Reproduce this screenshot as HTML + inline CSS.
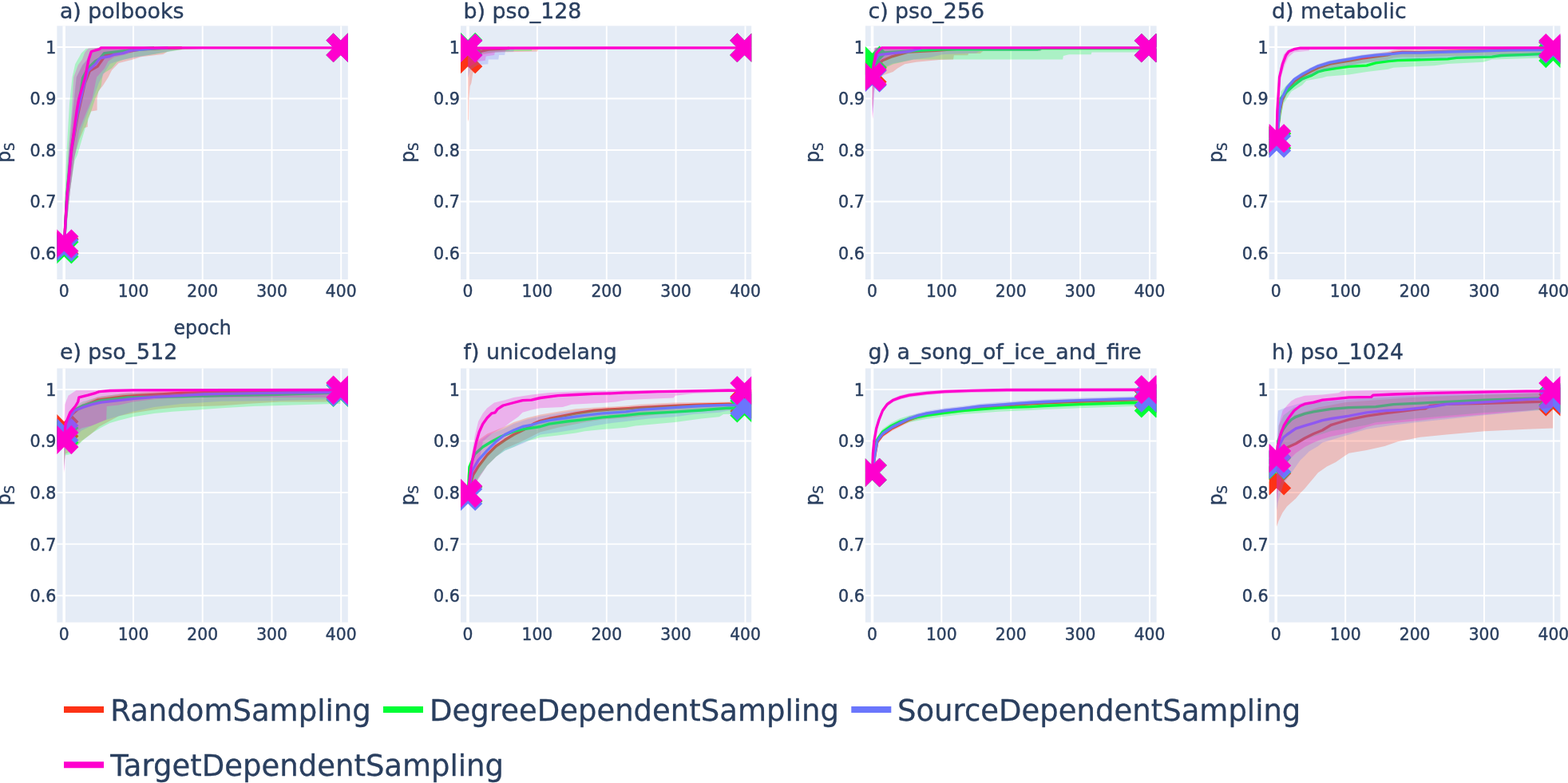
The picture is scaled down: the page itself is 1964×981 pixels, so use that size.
<!DOCTYPE html>
<html lang="en">
<head>
<meta charset="utf-8">
<title>Sampling strategies</title>
<style>
html,body{margin:0;padding:0;background:#fff;}
body{width:1964px;height:981px;overflow:hidden;}
svg{display:block;}
text{font-family:'DejaVu Sans', 'Liberation Sans', sans-serif;fill:#2a3f5f;stroke:#2a3f5f;stroke-linejoin:round;}
.tk{font-size:20.8px;stroke-width:0.45px;}
.tt{font-size:26.8px;stroke-width:0.4px;}
.ax{font-size:24.3px;stroke-width:0.4px;}
.lg{font-size:37.6px;stroke-width:0.3px;}
.gl{stroke:#fff;stroke-width:1.95;}
.zl{stroke:#fff;stroke-width:3.5;}
.ln{fill:none;stroke-width:3.35;stroke-linejoin:round;}
</style>
</head>
<body>
<svg width="1964" height="981" viewBox="0 0 1964 981" role="img" aria-label="Sampling strategy comparison on eight networks">
<rect width="1964" height="981" fill="#fff"/>
<defs>
<clipPath id="c0"><rect x="71.4" y="32.4" width="364.4" height="317.6"/></clipPath>
<clipPath id="c1"><rect x="577" y="32.4" width="364.2" height="317.6"/></clipPath>
<clipPath id="c2"><rect x="1083.9" y="32.4" width="364.7" height="317.6"/></clipPath>
<clipPath id="c3"><rect x="1589.6" y="32.4" width="364.8" height="317.6"/></clipPath>
<clipPath id="c4"><rect x="71.4" y="461.5" width="364.4" height="318.2"/></clipPath>
<clipPath id="c5"><rect x="577" y="461.5" width="364.2" height="318.2"/></clipPath>
<clipPath id="c6"><rect x="1083.9" y="461.5" width="364.7" height="318.2"/></clipPath>
<clipPath id="c7"><rect x="1589.6" y="461.5" width="364.8" height="318.2"/></clipPath>
</defs>
<g id="plot-a">
<rect x="71.4" y="32.4" width="364.4" height="317.6" fill="#E5ECF6"/>
<line class="gl" x1="167" x2="167" y1="32.4" y2="350"/>
<line class="gl" x1="253.7" x2="253.7" y1="32.4" y2="350"/>
<line class="gl" x1="340.5" x2="340.5" y1="32.4" y2="350"/>
<line class="gl" x1="427.2" x2="427.2" y1="32.4" y2="350"/>
<line class="gl" x1="71.4" x2="435.8" y1="58.9" y2="58.9"/>
<line class="gl" x1="71.4" x2="435.8" y1="123.4" y2="123.4"/>
<line class="gl" x1="71.4" x2="435.8" y1="188" y2="188"/>
<line class="gl" x1="71.4" x2="435.8" y1="252.5" y2="252.5"/>
<line class="gl" x1="71.4" x2="435.8" y1="317.1" y2="317.1"/>
<line class="zl" x1="80.2" x2="80.2" y1="32.4" y2="350"/>
<g clip-path="url(#c0)">
<polygon points="80.3,304.2 83.8,239 86.8,188 91.6,138.9 95.9,96.7 103.7,81.5 109.8,74.4 114.1,65.4 120.2,61.5 132.3,59.8 426.4,59.8 426.4,59.8 279.8,59.8 259.9,60.6 226.6,62.3 210,64.5 204.4,67.9 176.6,71.2 166.6,74.4 148.8,78.9 140,87.9 135.6,96.7 128.9,107.3 123.3,114.4 121.6,123.4 121.6,138.3 114.1,139.6 109.8,149.3 109.8,159 105.5,160.2 99.4,175.1 93.3,196.4 87.8,239 80.3,312.6" fill="#FD3216" fill-opacity="0.25"/>
<polyline class="ln" points="80.3,308.3 84,246.1 89.8,188 97.7,142.8 106.3,104.1 112.4,88.9 121.9,83.4 128,75 132.3,68.9 143.6,66.6 154,65.4 175.7,62.1 201.8,60.5 227.8,59.8" stroke="#FD3216"/>
<path d="M80.3,317.4 l9.1,9.1 l9.1,-9.1 l-9.1,-9.1 l9.1,-9.1 l-9.1,-9.1 l-9.1,9.1 l-9.1,-9.1 l-9.1,9.1 l9.1,9.1 l-9.1,9.1 l9.1,9.1 Z" fill="#FD3216"/>
<path d="M426.7,68.9 l9.1,9.1 l9.1,-9.1 l-9.1,-9.1 l9.1,-9.1 l-9.1,-9.1 l-9.1,9.1 l-9.1,-9.1 l-9.1,9.1 l9.1,9.1 l-9.1,9.1 l9.1,9.1 Z" fill="#FD3216"/>
<polygon points="80.3,304.2 81.4,239 83.6,188 87,129.9 90.5,96.7 94.2,80.2 102,66.6 107.7,61.1 124.5,59.8 426.4,59.8 426.4,59.8 327.5,59.8 326.7,61 253.8,61 227.8,62.1 213,64.5 193.1,67.9 167.1,71.8 155.5,74.4 146.7,77.8 140,85.6 128.9,92.5 126.6,108 119.3,123.4 114.4,138.9 106.3,162.2 96.8,194.5 93.7,200.9 87.8,239 80.3,317.1" fill="#00FE35" fill-opacity="0.25"/>
<polyline class="ln" points="80.3,312.5 83.6,246.1 89,188 97.7,136.4 103.7,97.6 109.8,86 119.3,76.7 125.4,73.1 130.6,66.6 158.4,63.4 175.7,60.8 193.1,59.8" stroke="#00FE35"/>
<path d="M80.3,321.5 l9.1,9.1 l9.1,-9.1 l-9.1,-9.1 l9.1,-9.1 l-9.1,-9.1 l-9.1,9.1 l-9.1,-9.1 l-9.1,9.1 l9.1,9.1 l-9.1,9.1 l9.1,9.1 Z" fill="#00FE35"/>
<path d="M426.7,68.9 l9.1,9.1 l9.1,-9.1 l-9.1,-9.1 l9.1,-9.1 l-9.1,-9.1 l-9.1,9.1 l-9.1,-9.1 l-9.1,9.1 l9.1,9.1 l-9.1,9.1 l9.1,9.1 Z" fill="#00FE35"/>
<polygon points="80.3,304.2 83.3,239 86.4,188 90.7,138.9 95.5,96.7 102.9,81.5 108.9,74.4 113.3,65.4 119.3,61.5 128,59.8 426.4,59.8 426.4,59.8 240.8,59.8 219.1,62.8 201.8,66 184.4,69.2 166.2,72.5 149.7,75.7 137.6,80 130.6,91.2 123.7,104.1 116.7,123.4 110.7,138.9 102,162.2 93.3,196.4 87.8,239 80.3,313.9" fill="#6A76FC" fill-opacity="0.25"/>
<polyline class="ln" points="80.3,309.7 83.9,246.1 89.4,188 96.8,142.8 103.3,114.4 110,88.9 119.9,80 123.8,74.4 126.6,72.5 137.7,70.5 143.3,68.3 154.4,66.6 163.3,63.4 182.2,61.7 193.1,60.6 210.4,59.8" stroke="#6A76FC"/>
<path d="M80.3,318.7 l9.1,9.1 l9.1,-9.1 l-9.1,-9.1 l9.1,-9.1 l-9.1,-9.1 l-9.1,9.1 l-9.1,-9.1 l-9.1,9.1 l9.1,9.1 l-9.1,9.1 l9.1,9.1 Z" fill="#6A76FC"/>
<path d="M426.7,68.9 l9.1,9.1 l9.1,-9.1 l-9.1,-9.1 l9.1,-9.1 l-9.1,-9.1 l-9.1,9.1 l-9.1,-9.1 l-9.1,9.1 l9.1,9.1 l-9.1,9.1 l9.1,9.1 Z" fill="#6A76FC"/>
<polygon points="80.3,301 82.9,239 85.5,188 89.8,138.9 92.2,96.7 97.7,81.5 102.9,74.4 106.3,65.4 110.7,60.5 123.7,59.8 426.4,59.8 426.4,59.8 184.4,59.8 171.4,64.1 158.4,67.9 142.8,71.8 135.6,76.7 131,85.6 121.1,96.7 115.5,123.4 108.9,138.9 99.4,162.2 93.3,196.4 87.8,239 80.3,310.6" fill="#FE00CE" fill-opacity="0.25"/>
<polyline class="ln" points="80.3,305.5 83.9,245 89.4,188 96.1,138.9 98.9,123.4 106.7,96.7 111.1,74.4 114.4,64.5 124.5,61.7 126.6,59.8 426.4,59.8" stroke="#FE00CE"/>
<path d="M80.3,314.5 l9.1,9.1 l9.1,-9.1 l-9.1,-9.1 l9.1,-9.1 l-9.1,-9.1 l-9.1,9.1 l-9.1,-9.1 l-9.1,9.1 l9.1,9.1 l-9.1,9.1 l9.1,9.1 Z" fill="#FE00CE"/>
<path d="M426.7,68.9 l9.1,9.1 l9.1,-9.1 l-9.1,-9.1 l9.1,-9.1 l-9.1,-9.1 l-9.1,9.1 l-9.1,-9.1 l-9.1,9.1 l9.1,9.1 l-9.1,9.1 l9.1,9.1 Z" fill="#FE00CE"/>
</g>
<text class="tk" transform="translate(80.2,371.9) scale(0.975,1)" text-anchor="middle">0</text>
<text class="tk" transform="translate(167,371.9) scale(0.975,1)" text-anchor="middle">100</text>
<text class="tk" transform="translate(253.7,371.9) scale(0.975,1)" text-anchor="middle">200</text>
<text class="tk" transform="translate(340.5,371.9) scale(0.975,1)" text-anchor="middle">300</text>
<text class="tk" transform="translate(427.2,371.9) scale(0.975,1)" text-anchor="middle">400</text>
<text class="tk" transform="translate(70.4,66.8) scale(0.995,1)" text-anchor="end">1</text>
<text class="tk" transform="translate(70.4,131.3) scale(0.995,1)" text-anchor="end">0.9</text>
<text class="tk" transform="translate(70.4,195.9) scale(0.995,1)" text-anchor="end">0.8</text>
<text class="tk" transform="translate(70.4,260.4) scale(0.995,1)" text-anchor="end">0.7</text>
<text class="tk" transform="translate(70.4,325) scale(0.995,1)" text-anchor="end">0.6</text>
<text class="tt" transform="translate(74.9,23.3) scale(1.0,1)">a) polbooks</text>
<text class="ax" transform="translate(13.1,191.2) rotate(-90) scale(0.957,1)" text-anchor="middle">p<tspan font-size="17.0px" dy="5.2">S</tspan></text>
<text class="ax" transform="translate(253.6,418.9) scale(0.975,1)" text-anchor="middle">epoch</text>
</g>
<g id="plot-b">
<rect x="577" y="32.4" width="364.2" height="317.6" fill="#E5ECF6"/>
<line class="gl" x1="672.9" x2="672.9" y1="32.4" y2="350"/>
<line class="gl" x1="759.8" x2="759.8" y1="32.4" y2="350"/>
<line class="gl" x1="846.6" x2="846.6" y1="32.4" y2="350"/>
<line class="gl" x1="933.5" x2="933.5" y1="32.4" y2="350"/>
<line class="gl" x1="577" x2="941.2" y1="58.9" y2="58.9"/>
<line class="gl" x1="577" x2="941.2" y1="123.4" y2="123.4"/>
<line class="gl" x1="577" x2="941.2" y1="188" y2="188"/>
<line class="gl" x1="577" x2="941.2" y1="252.5" y2="252.5"/>
<line class="gl" x1="577" x2="941.2" y1="317.1" y2="317.1"/>
<line class="zl" x1="586" x2="586" y1="32.4" y2="350"/>
<g clip-path="url(#c1)">
<polygon points="586.1,65.4 588.7,59.8 932.2,59.8 932.2,59.8 675.5,59.8 672.9,64.5 620.8,65.4 603.5,68.6 599.1,75 594.8,84.7 592.2,92.5 590.4,104.1 588.7,108 587.4,123.4 587,149.3 586.1,152.5" fill="#FD3216" fill-opacity="0.25"/>
<polyline class="ln" points="586.1,74.1 587.8,70.5 591.3,67.3 600.8,64.7 612.1,62.1 638.1,60.5" stroke="#FD3216"/>
<path d="M586.1,83.2 l9.1,9.1 l9.1,-9.1 l-9.1,-9.1 l9.1,-9.1 l-9.1,-9.1 l-9.1,9.1 l-9.1,-9.1 l-9.1,9.1 l9.1,9.1 l-9.1,9.1 l9.1,9.1 Z" fill="#FD3216"/>
<path d="M932.5,68.9 l9.1,9.1 l9.1,-9.1 l-9.1,-9.1 l9.1,-9.1 l-9.1,-9.1 l-9.1,9.1 l-9.1,-9.1 l-9.1,9.1 l9.1,9.1 l-9.1,9.1 l9.1,9.1 Z" fill="#FD3216"/>
<polygon points="586.1,58.9 590.4,59.8 932.2,59.8 932.2,59.8 666.8,59.8 665.9,64.1 643.4,64.1 603.5,66.6 586.1,68.6" fill="#00FE35" fill-opacity="0.25"/>
<polyline class="ln" points="586.1,59 590.4,59.8" stroke="#00FE35"/>
<path d="M586.1,68.1 l9.1,9.1 l9.1,-9.1 l-9.1,-9.1 l9.1,-9.1 l-9.1,-9.1 l-9.1,9.1 l-9.1,-9.1 l-9.1,9.1 l9.1,9.1 l-9.1,9.1 l9.1,9.1 Z" fill="#00FE35"/>
<path d="M932.5,68.9 l9.1,9.1 l9.1,-9.1 l-9.1,-9.1 l9.1,-9.1 l-9.1,-9.1 l-9.1,9.1 l-9.1,-9.1 l-9.1,9.1 l9.1,9.1 l-9.1,9.1 l9.1,9.1 Z" fill="#00FE35"/>
<polygon points="586.1,59.5 932.2,59.8 932.2,59.8 644.2,59.8 643.4,64.7 632.9,64.7 632.1,68.9 625.1,68.9 624.3,74.4 611.7,74.4 611.3,80.2 598.2,81.5 588.7,87.9 587,94.4 586.1,97.6" fill="#6A76FC" fill-opacity="0.25"/>
<polyline class="ln" points="586.1,60.2 594.8,59.8" stroke="#6A76FC"/>
<path d="M586.1,69.2 l9.1,9.1 l9.1,-9.1 l-9.1,-9.1 l9.1,-9.1 l-9.1,-9.1 l-9.1,9.1 l-9.1,-9.1 l-9.1,9.1 l9.1,9.1 l-9.1,9.1 l9.1,9.1 Z" fill="#6A76FC"/>
<path d="M932.5,68.9 l9.1,9.1 l9.1,-9.1 l-9.1,-9.1 l9.1,-9.1 l-9.1,-9.1 l-9.1,9.1 l-9.1,-9.1 l-9.1,9.1 l9.1,9.1 l-9.1,9.1 l9.1,9.1 Z" fill="#6A76FC"/>
<polygon points="586.1,59.5 932.2,59.8 932.2,59.8 638.1,59.8 632.1,64.7 619.9,65.4 619.1,68.9 608.7,70.5 607.8,75.7 599.1,77 586.1,84.7" fill="#FE00CE" fill-opacity="0.25"/>
<polyline class="ln" points="586.1,60.2 932.2,59.8" stroke="#FE00CE"/>
<path d="M586.1,69.2 l9.1,9.1 l9.1,-9.1 l-9.1,-9.1 l9.1,-9.1 l-9.1,-9.1 l-9.1,9.1 l-9.1,-9.1 l-9.1,9.1 l9.1,9.1 l-9.1,9.1 l9.1,9.1 Z" fill="#FE00CE"/>
<path d="M932.5,68.9 l9.1,9.1 l9.1,-9.1 l-9.1,-9.1 l9.1,-9.1 l-9.1,-9.1 l-9.1,9.1 l-9.1,-9.1 l-9.1,9.1 l9.1,9.1 l-9.1,9.1 l9.1,9.1 Z" fill="#FE00CE"/>
</g>
<text class="tk" transform="translate(586,371.9) scale(0.975,1)" text-anchor="middle">0</text>
<text class="tk" transform="translate(672.9,371.9) scale(0.975,1)" text-anchor="middle">100</text>
<text class="tk" transform="translate(759.8,371.9) scale(0.975,1)" text-anchor="middle">200</text>
<text class="tk" transform="translate(846.6,371.9) scale(0.975,1)" text-anchor="middle">300</text>
<text class="tk" transform="translate(933.5,371.9) scale(0.975,1)" text-anchor="middle">400</text>
<text class="tk" transform="translate(576,66.8) scale(0.995,1)" text-anchor="end">1</text>
<text class="tk" transform="translate(576,131.3) scale(0.995,1)" text-anchor="end">0.9</text>
<text class="tk" transform="translate(576,195.9) scale(0.995,1)" text-anchor="end">0.8</text>
<text class="tk" transform="translate(576,260.4) scale(0.995,1)" text-anchor="end">0.7</text>
<text class="tk" transform="translate(576,325) scale(0.995,1)" text-anchor="end">0.6</text>
<text class="tt" transform="translate(580.5,23.3) scale(1.0,1)">b) pso_128</text>
<text class="ax" transform="translate(518.7,191.2) rotate(-90) scale(0.957,1)" text-anchor="middle">p<tspan font-size="17.0px" dy="5.2">S</tspan></text>
</g>
<g id="plot-c">
<rect x="1083.9" y="32.4" width="364.7" height="317.6" fill="#E5ECF6"/>
<line class="gl" x1="1179.3" x2="1179.3" y1="32.4" y2="350"/>
<line class="gl" x1="1266.2" x2="1266.2" y1="32.4" y2="350"/>
<line class="gl" x1="1353.1" x2="1353.1" y1="32.4" y2="350"/>
<line class="gl" x1="1440" x2="1440" y1="32.4" y2="350"/>
<line class="gl" x1="1083.9" x2="1448.6" y1="58.9" y2="58.9"/>
<line class="gl" x1="1083.9" x2="1448.6" y1="123.4" y2="123.4"/>
<line class="gl" x1="1083.9" x2="1448.6" y1="188" y2="188"/>
<line class="gl" x1="1083.9" x2="1448.6" y1="252.5" y2="252.5"/>
<line class="gl" x1="1083.9" x2="1448.6" y1="317.1" y2="317.1"/>
<line class="zl" x1="1092.5" x2="1092.5" y1="32.4" y2="350"/>
<g clip-path="url(#c2)">
<polygon points="1092.5,78.3 1096.8,59.8 1438.6,59.8 1438.6,60.2 1304.2,60.2 1303.3,64.1 1231.3,64.1 1227.8,67 1213.1,67 1212.2,69.2 1194.9,69.2 1194,74.4 1176.6,75 1147.6,77.8 1133.3,80.2 1124.3,85.6 1118.5,89.9 1105.5,94.4 1096.8,104.1 1094.2,117 1093.4,136.4 1092.5,129.9" fill="#FD3216" fill-opacity="0.25"/>
<polyline class="ln" points="1092.5,93.4 1096.8,84.7 1105.5,75.7 1116.5,71.2 1127.7,67.9 1138.5,65 1172.3,63.4 1205.3,60.8" stroke="#FD3216"/>
<path d="M1092.5,102.4 l9.1,9.1 l9.1,-9.1 l-9.1,-9.1 l9.1,-9.1 l-9.1,-9.1 l-9.1,9.1 l-9.1,-9.1 l-9.1,9.1 l9.1,9.1 l-9.1,9.1 l9.1,9.1 Z" fill="#FD3216"/>
<path d="M1438.9,69.2 l9.1,9.1 l9.1,-9.1 l-9.1,-9.1 l9.1,-9.1 l-9.1,-9.1 l-9.1,9.1 l-9.1,-9.1 l-9.1,9.1 l9.1,9.1 l-9.1,9.1 l9.1,9.1 Z" fill="#FD3216"/>
<polygon points="1092.5,68.6 1096.8,59.8 1438.6,59.8 1438.6,65.4 1367.5,65.4 1366.6,68.3 1338.9,68.3 1331.9,69.9 1331.1,74.4 1144.3,74.4 1119.1,80.2 1109,84.7 1096.8,89.9 1092.5,91.2" fill="#00FE35" fill-opacity="0.25"/>
<polyline class="ln" points="1092.5,75.9 1096.8,71.8 1101.2,67.9 1108.1,66 1135.9,64.1 1179.2,61.8 1299.8,61.7 1305,60.5 1438.6,60.5" stroke="#00FE35"/>
<path d="M1092.5,84.9 l9.1,9.1 l9.1,-9.1 l-9.1,-9.1 l9.1,-9.1 l-9.1,-9.1 l-9.1,9.1 l-9.1,-9.1 l-9.1,9.1 l9.1,9.1 l-9.1,9.1 l9.1,9.1 Z" fill="#00FE35"/>
<path d="M1438.9,69.2 l9.1,9.1 l9.1,-9.1 l-9.1,-9.1 l9.1,-9.1 l-9.1,-9.1 l-9.1,9.1 l-9.1,-9.1 l-9.1,9.1 l9.1,9.1 l-9.1,9.1 l9.1,9.1 Z" fill="#00FE35"/>
<polygon points="1092.5,84.7 1096,59.8 1438.6,59.8 1438.6,60.2 1304.2,60.2 1303.3,64.1 1227.8,64.1 1222.6,66.6 1183.6,67.9 1179.2,68.6 1166.2,71.8 1144.5,74.4 1131.5,77 1118.5,79.6 1109,83.4 1096.8,104.1 1095.1,117 1093.4,142.8 1092.5,136.4" fill="#6A76FC" fill-opacity="0.25"/>
<polyline class="ln" points="1092.5,97.6 1095.1,78.3 1099.9,68.9 1118.5,66.6 1138.5,64.5 1153.2,60.8" stroke="#6A76FC"/>
<path d="M1092.5,106.7 l9.1,9.1 l9.1,-9.1 l-9.1,-9.1 l9.1,-9.1 l-9.1,-9.1 l-9.1,9.1 l-9.1,-9.1 l-9.1,9.1 l9.1,9.1 l-9.1,9.1 l9.1,9.1 Z" fill="#6A76FC"/>
<path d="M1438.9,69.2 l9.1,9.1 l9.1,-9.1 l-9.1,-9.1 l9.1,-9.1 l-9.1,-9.1 l-9.1,9.1 l-9.1,-9.1 l-9.1,9.1 l9.1,9.1 l-9.1,9.1 l9.1,9.1 Z" fill="#6A76FC"/>
<polygon points="1092.5,84.7 1095.1,59.8 1438.6,59.8 1438.6,59.8 1161.9,59.8 1144.5,64.1 1122.9,68.6 1109.8,73.1 1101.2,81.5 1095.1,104.1 1093.4,149.3 1092.5,142.8" fill="#FE00CE" fill-opacity="0.25"/>
<polyline class="ln" points="1092.5,96.3 1094.2,81.5 1097.7,66.6 1104.3,59.8 1438.6,59.8" stroke="#FE00CE"/>
<path d="M1092.5,105.4 l9.1,9.1 l9.1,-9.1 l-9.1,-9.1 l9.1,-9.1 l-9.1,-9.1 l-9.1,9.1 l-9.1,-9.1 l-9.1,9.1 l9.1,9.1 l-9.1,9.1 l9.1,9.1 Z" fill="#FE00CE"/>
<path d="M1438.9,69.2 l9.1,9.1 l9.1,-9.1 l-9.1,-9.1 l9.1,-9.1 l-9.1,-9.1 l-9.1,9.1 l-9.1,-9.1 l-9.1,9.1 l9.1,9.1 l-9.1,9.1 l9.1,9.1 Z" fill="#FE00CE"/>
</g>
<text class="tk" transform="translate(1092.5,371.9) scale(0.975,1)" text-anchor="middle">0</text>
<text class="tk" transform="translate(1179.3,371.9) scale(0.975,1)" text-anchor="middle">100</text>
<text class="tk" transform="translate(1266.2,371.9) scale(0.975,1)" text-anchor="middle">200</text>
<text class="tk" transform="translate(1353.1,371.9) scale(0.975,1)" text-anchor="middle">300</text>
<text class="tk" transform="translate(1440,371.9) scale(0.975,1)" text-anchor="middle">400</text>
<text class="tk" transform="translate(1082.9,66.8) scale(0.995,1)" text-anchor="end">1</text>
<text class="tk" transform="translate(1082.9,131.3) scale(0.995,1)" text-anchor="end">0.9</text>
<text class="tk" transform="translate(1082.9,195.9) scale(0.995,1)" text-anchor="end">0.8</text>
<text class="tk" transform="translate(1082.9,260.4) scale(0.995,1)" text-anchor="end">0.7</text>
<text class="tk" transform="translate(1082.9,325) scale(0.995,1)" text-anchor="end">0.6</text>
<text class="tt" transform="translate(1087.4,23.3) scale(1.0,1)">c) pso_256</text>
<text class="ax" transform="translate(1025.6,191.2) rotate(-90) scale(0.957,1)" text-anchor="middle">p<tspan font-size="17.0px" dy="5.2">S</tspan></text>
</g>
<g id="plot-d">
<rect x="1589.6" y="32.4" width="364.8" height="317.6" fill="#E5ECF6"/>
<line class="gl" x1="1685.2" x2="1685.2" y1="32.4" y2="350"/>
<line class="gl" x1="1772.1" x2="1772.1" y1="32.4" y2="350"/>
<line class="gl" x1="1859" x2="1859" y1="32.4" y2="350"/>
<line class="gl" x1="1945.9" x2="1945.9" y1="32.4" y2="350"/>
<line class="gl" x1="1589.6" x2="1954.4" y1="58.9" y2="58.9"/>
<line class="gl" x1="1589.6" x2="1954.4" y1="123.4" y2="123.4"/>
<line class="gl" x1="1589.6" x2="1954.4" y1="188" y2="188"/>
<line class="gl" x1="1589.6" x2="1954.4" y1="252.5" y2="252.5"/>
<line class="gl" x1="1589.6" x2="1954.4" y1="317.1" y2="317.1"/>
<line class="zl" x1="1598.2" x2="1598.2" y1="32.4" y2="350"/>
<g clip-path="url(#c3)">
<polygon points="1599,172.5 1602.9,137 1605.9,121.5 1612.4,108 1621.6,97.6 1631.5,91.2 1641.5,85.7 1651.5,80.8 1665.8,76.3 1678.8,74.1 1690.1,72.1 1706.6,69.2 1723.1,67 1737.8,65 1745.3,62.8 1756.5,61.6 1778.6,61.8 1796.8,61.2 1813.3,60.5 1859.2,59.5 1891.3,58.6 1935.6,58.3 1945.1,58.6 1945.1,68.3 1935.6,67.9 1891.3,68.3 1859.2,69.2 1813.3,70.2 1796.8,70.8 1778.6,71.5 1756.5,71.3 1745.3,72.5 1737.8,74.7 1723.1,76.7 1706.6,78.9 1690.1,81.8 1678.8,83.8 1665.8,86 1651.5,90.5 1641.5,95.4 1631.5,100.9 1621.6,107.3 1612.4,117.6 1605.9,131.2 1602.9,146.7 1599,182.2" fill="#FD3216" fill-opacity="0.25"/>
<polyline class="ln" points="1599,176.4 1602.9,140.9 1605.9,125.4 1612.4,111.8 1621.6,101.5 1631.5,95 1641.5,89.6 1651.5,84.7 1665.8,80.2 1678.8,77.9 1690.1,76 1706.6,73.1 1723.1,70.8 1737.8,68.9 1745.3,66.6 1756.5,65.5 1778.6,65.7 1796.8,65 1813.3,64.4 1859.2,63.4 1891.3,62.5 1935.6,62.1 1945.1,62.5" stroke="#FD3216"/>
<path d="M1599,185.4 l9.1,9.1 l9.1,-9.1 l-9.1,-9.1 l9.1,-9.1 l-9.1,-9.1 l-9.1,9.1 l-9.1,-9.1 l-9.1,9.1 l9.1,9.1 l-9.1,9.1 l9.1,9.1 Z" fill="#FD3216"/>
<path d="M1945.4,71.5 l9.1,9.1 l9.1,-9.1 l-9.1,-9.1 l9.1,-9.1 l-9.1,-9.1 l-9.1,9.1 l-9.1,-9.1 l-9.1,9.1 l9.1,9.1 l-9.1,9.1 l9.1,9.1 Z" fill="#FD3216"/>
<polygon points="1599,168 1604.2,115.1 1612,106 1620.9,98.3 1630.9,90.5 1643.1,86 1650.9,81.6 1658.7,79.6 1673.1,77.2 1689.7,75 1711.8,73.8 1723.1,70.5 1739.5,68.3 1750.8,67.3 1772.5,66.6 1813.3,65.5 1824.5,63.9 1868.8,62.8 1880.1,61.1 1913,59.9 1935.6,58.9 1945.1,58.7 1945.1,71.8 1930,72.8 1902.6,73.4 1868.8,74.4 1858.4,77.8 1813.3,80 1796.8,82.2 1767.3,83.4 1745.3,84.7 1738.7,86.7 1711.8,90 1689.7,93.4 1662,95.7 1656.3,97.6 1636.3,101.1 1630.9,106.7 1617.6,114.4 1607.7,129.9 1599,181.5" fill="#00FE35" fill-opacity="0.25"/>
<polyline class="ln" points="1599,176.4 1604.2,123.4 1612,114.4 1620.9,106.7 1630.9,98.9 1643.1,94.4 1650.9,90 1658.7,87.9 1673.1,85.6 1689.7,83.4 1711.8,82.2 1723.1,78.9 1739.5,76.7 1750.8,75.7 1772.5,75 1813.3,73.9 1824.5,72.3 1868.8,71.2 1880.1,69.5 1913,68.3 1935.6,67.3 1945.1,67.1" stroke="#00FE35"/>
<path d="M1599,185.4 l9.1,9.1 l9.1,-9.1 l-9.1,-9.1 l9.1,-9.1 l-9.1,-9.1 l-9.1,9.1 l-9.1,-9.1 l-9.1,9.1 l9.1,9.1 l-9.1,9.1 l9.1,9.1 Z" fill="#00FE35"/>
<path d="M1945.4,76.1 l9.1,9.1 l9.1,-9.1 l-9.1,-9.1 l9.1,-9.1 l-9.1,-9.1 l-9.1,9.1 l-9.1,-9.1 l-9.1,9.1 l9.1,9.1 l-9.1,9.1 l9.1,9.1 Z" fill="#00FE35"/>
<polygon points="1599,177.1 1602.6,136.4 1605.3,120.9 1612,107.3 1620.9,97 1630.9,90.5 1640.9,85 1650.9,80.2 1665.4,75.7 1678.6,73.4 1689.7,71.5 1706.4,68.6 1723.1,66.6 1745.3,64.7 1756.5,63.5 1778.6,63.5 1796.8,63 1813.3,62.5 1859.2,61.4 1891.3,60.2 1935.6,59.9 1945.1,59.1 1945.1,70.1 1935.6,70.8 1891.3,71.2 1859.2,72.3 1813.3,73.4 1796.8,73.9 1778.6,74.5 1756.5,74.5 1745.3,75.7 1723.1,77.6 1706.4,79.6 1689.7,82.5 1678.6,84.4 1665.4,86.7 1650.9,91.2 1640.9,96 1630.9,101.5 1620.9,108 1612,118.3 1605.3,131.8 1602.6,147.3 1599,188.1" fill="#6A76FC" fill-opacity="0.25"/>
<polyline class="ln" points="1599,179.7 1602.6,138.9 1605.3,123.4 1612,109.9 1620.9,99.6 1630.9,93.1 1640.9,87.6 1650.9,82.8 1665.4,78.3 1678.6,76 1689.7,74.1 1706.4,71.2 1723.1,69.2 1745.3,67.3 1756.5,66.1 1778.6,66.1 1796.8,65.5 1813.3,65 1859.2,63.9 1891.3,62.8 1935.6,62.5 1945.1,61.7" stroke="#6A76FC"/>
<path d="M1599,188.7 l9.1,9.1 l9.1,-9.1 l-9.1,-9.1 l9.1,-9.1 l-9.1,-9.1 l-9.1,9.1 l-9.1,-9.1 l-9.1,9.1 l9.1,9.1 l-9.1,9.1 l9.1,9.1 Z" fill="#6A76FC"/>
<path d="M1945.4,70.7 l9.1,9.1 l9.1,-9.1 l-9.1,-9.1 l9.1,-9.1 l-9.1,-9.1 l-9.1,9.1 l-9.1,-9.1 l-9.1,9.1 l9.1,9.1 l-9.1,9.1 l9.1,9.1 Z" fill="#6A76FC"/>
<polygon points="1599,168.6 1600.7,110.5 1603.3,84.7 1607.7,68.6 1612,63.4 1620.7,59.8 1945.1,59.8 1945.1,60.2 1640.6,60.2 1639.8,63.4 1620.7,65.4 1613.7,71.8 1609.4,81.5 1604.2,97.6 1601.6,123.4 1599,178.3" fill="#FE00CE" fill-opacity="0.25"/>
<polyline class="ln" points="1599,173.5 1599.9,138.9 1600.9,123.4 1602.6,96.7 1606.5,80.2 1610.9,68.9 1614.3,64.5 1620.9,61.7 1628.7,60.2 1945.1,59.8" stroke="#FE00CE"/>
<path d="M1599,182.5 l9.1,9.1 l9.1,-9.1 l-9.1,-9.1 l9.1,-9.1 l-9.1,-9.1 l-9.1,9.1 l-9.1,-9.1 l-9.1,9.1 l9.1,9.1 l-9.1,9.1 l9.1,9.1 Z" fill="#FE00CE"/>
<path d="M1945.4,69.2 l9.1,9.1 l9.1,-9.1 l-9.1,-9.1 l9.1,-9.1 l-9.1,-9.1 l-9.1,9.1 l-9.1,-9.1 l-9.1,9.1 l9.1,9.1 l-9.1,9.1 l9.1,9.1 Z" fill="#FE00CE"/>
</g>
<text class="tk" transform="translate(1598.2,371.9) scale(0.975,1)" text-anchor="middle">0</text>
<text class="tk" transform="translate(1685.2,371.9) scale(0.975,1)" text-anchor="middle">100</text>
<text class="tk" transform="translate(1772.1,371.9) scale(0.975,1)" text-anchor="middle">200</text>
<text class="tk" transform="translate(1859,371.9) scale(0.975,1)" text-anchor="middle">300</text>
<text class="tk" transform="translate(1945.9,371.9) scale(0.975,1)" text-anchor="middle">400</text>
<text class="tk" transform="translate(1588.6,66.8) scale(0.995,1)" text-anchor="end">1</text>
<text class="tk" transform="translate(1588.6,131.3) scale(0.995,1)" text-anchor="end">0.9</text>
<text class="tk" transform="translate(1588.6,195.9) scale(0.995,1)" text-anchor="end">0.8</text>
<text class="tk" transform="translate(1588.6,260.4) scale(0.995,1)" text-anchor="end">0.7</text>
<text class="tk" transform="translate(1588.6,325) scale(0.995,1)" text-anchor="end">0.6</text>
<text class="tt" transform="translate(1593.1,23.3) scale(1.0,1)">d) metabolic</text>
<text class="ax" transform="translate(1531.3,191.2) rotate(-90) scale(0.957,1)" text-anchor="middle">p<tspan font-size="17.0px" dy="5.2">S</tspan></text>
</g>
<g id="plot-e">
<rect x="71.4" y="461.5" width="364.4" height="318.2" fill="#E5ECF6"/>
<line class="gl" x1="167" x2="167" y1="461.5" y2="779.7"/>
<line class="gl" x1="253.7" x2="253.7" y1="461.5" y2="779.7"/>
<line class="gl" x1="340.5" x2="340.5" y1="461.5" y2="779.7"/>
<line class="gl" x1="427.2" x2="427.2" y1="461.5" y2="779.7"/>
<line class="gl" x1="71.4" x2="435.8" y1="488" y2="488"/>
<line class="gl" x1="71.4" x2="435.8" y1="552.5" y2="552.5"/>
<line class="gl" x1="71.4" x2="435.8" y1="617.1" y2="617.1"/>
<line class="gl" x1="71.4" x2="435.8" y1="681.6" y2="681.6"/>
<line class="gl" x1="71.4" x2="435.8" y1="746.2" y2="746.2"/>
<line class="zl" x1="80.2" x2="80.2" y1="461.5" y2="779.7"/>
<g clip-path="url(#c4)">
<polygon points="80.3,533.4 89,516.4 97.7,508.7 110.7,502.2 122.2,497.4 154.4,492.9 171,491.9 193.1,490.6 226.6,488.5 278.1,488.5 305.9,488.5 340.6,488.5 366.6,488.5 426.4,488.5 426.4,503.5 351,503.5 311.9,505.7 278.1,508.3 226.6,509.9 198.9,512.5 171,516.8 148.8,521.2 124.4,534.5 115,542.9 102,552.5 89,565.5 81.6,568.7 80.3,584.8" fill="#FD3216" fill-opacity="0.25"/>
<polyline class="ln" points="80.3,537.3 89,520.3 97.7,512.5 110.7,506.1 122.2,501.2 154.4,496.8 171,495.7 193.1,494.5 226.6,492.3 278.1,491.2 305.9,490.9 340.6,490.5 366.6,489.3 426.4,489.3" stroke="#FD3216"/>
<path d="M80.3,546.4 l9.1,9.1 l9.1,-9.1 l-9.1,-9.1 l9.1,-9.1 l-9.1,-9.1 l-9.1,9.1 l-9.1,-9.1 l-9.1,9.1 l9.1,9.1 l-9.1,9.1 l9.1,9.1 Z" fill="#FD3216"/>
<path d="M426.7,498.3 l9.1,9.1 l9.1,-9.1 l-9.1,-9.1 l9.1,-9.1 l-9.1,-9.1 l-9.1,9.1 l-9.1,-9.1 l-9.1,9.1 l9.1,9.1 l-9.1,9.1 l9.1,9.1 Z" fill="#FD3216"/>
<polygon points="80.3,540.3 84.6,521.6 93.3,508.7 104.4,502.8 126.6,496.6 159.9,492.7 193.1,492.2 226.6,491.6 278.1,490.6 340.6,489.3 426.4,488.5 426.4,506.1 406.5,506.2 351,508 317.1,509 278.1,511.2 248.6,513.4 215.6,515.8 193.1,517.9 166.6,522.3 148.8,526.7 137.7,530.1 126.6,535.8 115.5,542.4 104.4,551.3 98.9,556.7 89,568.7 81.6,570.6 80.3,584.8" fill="#00FE35" fill-opacity="0.25"/>
<polyline class="ln" points="80.3,545.4 84.6,526.7 93.3,513.8 104.4,508 126.6,501.7 159.9,497.9 193.1,497.4 226.6,496.8 278.1,495.7 340.6,494.5 426.4,491.9" stroke="#00FE35"/>
<path d="M80.3,554.5 l9.1,9.1 l9.1,-9.1 l-9.1,-9.1 l9.1,-9.1 l-9.1,-9.1 l-9.1,9.1 l-9.1,-9.1 l-9.1,9.1 l9.1,9.1 l-9.1,9.1 l9.1,9.1 Z" fill="#00FE35"/>
<path d="M426.7,500.9 l9.1,9.1 l9.1,-9.1 l-9.1,-9.1 l9.1,-9.1 l-9.1,-9.1 l-9.1,9.1 l-9.1,-9.1 l-9.1,9.1 l9.1,9.1 l-9.1,9.1 l9.1,9.1 Z" fill="#00FE35"/>
<polygon points="80.3,538.5 84.6,522.9 93.3,510.7 104.4,506.3 115.5,502.8 126.6,500.3 148.8,497.9 166.6,495.7 193.1,493.5 226.6,491.9 254.4,490.1 278.1,489.5 340.6,488.5 365.7,488.5 426.4,488.5 426.4,499.6 406.5,500.3 340.6,502.2 278.1,502.8 226.6,506.1 193.1,509.9 166.6,515.8 148.8,521.2 133.2,525.8 115,533.2 102,539.6 89,552.5 81.6,565.5 80.3,591.3" fill="#6A76FC" fill-opacity="0.25"/>
<polyline class="ln" points="80.3,542.4 84.6,526.7 93.3,514.5 104.4,510.1 115.5,506.7 126.6,504.1 148.8,501.7 166.6,499.6 193.1,497.4 226.6,495.7 254.4,494 278.1,493.4 340.6,492.3 365.7,491.9 426.4,491.4" stroke="#6A76FC"/>
<path d="M80.3,551.4 l9.1,9.1 l9.1,-9.1 l-9.1,-9.1 l9.1,-9.1 l-9.1,-9.1 l-9.1,9.1 l-9.1,-9.1 l-9.1,9.1 l9.1,9.1 l-9.1,9.1 l9.1,9.1 Z" fill="#6A76FC"/>
<path d="M426.7,500.5 l9.1,9.1 l9.1,-9.1 l-9.1,-9.1 l9.1,-9.1 l-9.1,-9.1 l-9.1,9.1 l-9.1,-9.1 l-9.1,9.1 l9.1,9.1 l-9.1,9.1 l9.1,9.1 Z" fill="#6A76FC"/>
<polygon points="80.3,533.2 81.2,506.7 85.5,495.7 92.2,491.2 95.5,489 426.4,488.3 426.4,497.9 236.4,497.9 210.4,499 193.1,500.3 166.6,503.5 148.8,507.4 133.7,509 133.2,525.8 115,533.2 102,536.4 97.7,539.6 87.2,552.5 82,559 81.2,584.8 80.3,592.6" fill="#FE00CE" fill-opacity="0.25"/>
<polyline class="ln" points="80.3,551 82.2,531.2 87.8,516.8 94.4,509 97.7,503.5 98.9,497.9 110,495.1 119.9,492.3 124.4,490.6 137.7,489.5 166.6,488.8 426.4,488.5" stroke="#FE00CE"/>
<path d="M80.3,560.1 l9.1,9.1 l9.1,-9.1 l-9.1,-9.1 l9.1,-9.1 l-9.1,-9.1 l-9.1,9.1 l-9.1,-9.1 l-9.1,9.1 l9.1,9.1 l-9.1,9.1 l9.1,9.1 Z" fill="#FE00CE"/>
<path d="M426.7,497.8 l9.1,9.1 l9.1,-9.1 l-9.1,-9.1 l9.1,-9.1 l-9.1,-9.1 l-9.1,9.1 l-9.1,-9.1 l-9.1,9.1 l9.1,9.1 l-9.1,9.1 l9.1,9.1 Z" fill="#FE00CE"/>
</g>
<text class="tk" transform="translate(80.2,801.6) scale(0.975,1)" text-anchor="middle">0</text>
<text class="tk" transform="translate(167,801.6) scale(0.975,1)" text-anchor="middle">100</text>
<text class="tk" transform="translate(253.7,801.6) scale(0.975,1)" text-anchor="middle">200</text>
<text class="tk" transform="translate(340.5,801.6) scale(0.975,1)" text-anchor="middle">300</text>
<text class="tk" transform="translate(427.2,801.6) scale(0.975,1)" text-anchor="middle">400</text>
<text class="tk" transform="translate(70.4,495.9) scale(0.995,1)" text-anchor="end">1</text>
<text class="tk" transform="translate(70.4,560.4) scale(0.995,1)" text-anchor="end">0.9</text>
<text class="tk" transform="translate(70.4,625) scale(0.995,1)" text-anchor="end">0.8</text>
<text class="tk" transform="translate(70.4,689.5) scale(0.995,1)" text-anchor="end">0.7</text>
<text class="tk" transform="translate(70.4,754.1) scale(0.995,1)" text-anchor="end">0.6</text>
<text class="tt" transform="translate(74.9,449.5) scale(1.0,1)">e) pso_512</text>
<text class="ax" transform="translate(13.1,620.6) rotate(-90) scale(0.957,1)" text-anchor="middle">p<tspan font-size="17.0px" dy="5.2">S</tspan></text>
</g>
<g id="plot-f">
<rect x="577" y="461.5" width="364.2" height="318.2" fill="#E5ECF6"/>
<line class="gl" x1="672.9" x2="672.9" y1="461.5" y2="779.7"/>
<line class="gl" x1="759.8" x2="759.8" y1="461.5" y2="779.7"/>
<line class="gl" x1="846.6" x2="846.6" y1="461.5" y2="779.7"/>
<line class="gl" x1="933.5" x2="933.5" y1="461.5" y2="779.7"/>
<line class="gl" x1="577" x2="941.2" y1="488" y2="488"/>
<line class="gl" x1="577" x2="941.2" y1="552.5" y2="552.5"/>
<line class="gl" x1="577" x2="941.2" y1="617.1" y2="617.1"/>
<line class="gl" x1="577" x2="941.2" y1="681.6" y2="681.6"/>
<line class="gl" x1="577" x2="941.2" y1="746.2" y2="746.2"/>
<line class="zl" x1="586" x2="586" y1="461.5" y2="779.7"/>
<g clip-path="url(#c5)">
<polygon points="586.1,617.1 590.4,578.4 599.1,551.3 610.2,543.5 621.3,539 632.4,534.5 643.5,529 660.2,523.5 676.8,519.6 698.9,515.8 721.4,512.3 754.4,510.1 783.9,508.5 801.2,506.7 845.5,504.5 912.3,503.5 932.2,503.5 932.2,512.5 846.4,517 783.9,523.5 754.7,525.6 732.4,529 710.2,533.4 698.9,535.8 676.8,541.2 654.6,552.5 632.4,562.2 621.3,572.2 610.2,583.3 599.1,600 586.1,623.6" fill="#FD3216" fill-opacity="0.25"/>
<polyline class="ln" points="586.1,619 592.4,595.5 599.1,584.4 610.2,570 621.3,559 632.4,551.3 643.5,544.5 650.3,541.3 659.8,536.4 668.5,530.9 676.8,527.4 688,524.5 704.7,521.2 721.4,517.9 743.6,514.5 765.7,512.9 783.9,511.9 801.2,510.6 845.5,508.5 868,507.4 912.3,506.2 932.2,506.1" stroke="#FD3216"/>
<path d="M586.1,628.1 l9.1,9.1 l9.1,-9.1 l-9.1,-9.1 l9.1,-9.1 l-9.1,-9.1 l-9.1,9.1 l-9.1,-9.1 l-9.1,9.1 l9.1,9.1 l-9.1,9.1 l9.1,9.1 Z" fill="#FD3216"/>
<path d="M932.5,515.1 l9.1,9.1 l9.1,-9.1 l-9.1,-9.1 l9.1,-9.1 l-9.1,-9.1 l-9.1,9.1 l-9.1,-9.1 l-9.1,9.1 l9.1,9.1 l-9.1,9.1 l9.1,9.1 Z" fill="#FD3216"/>
<polygon points="586.1,618.4 592.4,594.9 599.1,583.8 610.2,569.3 621.3,558.4 632.4,550.6 643.5,543.9 650.3,540.6 659.8,535.8 668.5,530.3 676.8,526.7 688,523.9 704.7,520.6 721.4,517.2 743.6,513.9 765.7,512.3 783.9,511.2 801.2,509.9 845.5,507.8 868,506.7 912.3,505.6 932.2,505.4 932.2,518.3 906.2,519 901,522.3 878.4,524.5 845.5,529 796,533.4 783.9,535.8 754.7,537.9 732.4,540.3 721.4,542.4 698.9,545.6 676.8,548 665.7,551.3 654.6,554.5 643.5,560 632.4,564.4 621.3,572.2 610.2,583.3 599.1,597.7 586.1,623.6" fill="#00FE35" fill-opacity="0.25"/>
<polyline class="ln" points="586.1,619 588,584.8 594.7,568.9 604.7,560 615.8,553.2 628,546.7 643.5,540.6 654.6,537.9 676.8,534.5 688,531.2 710.2,528 732.4,525.6 754.7,522.9 783.9,520.3 801.2,518.3 845.5,516.2 878.4,514 912.3,511.2 932.2,511.2" stroke="#00FE35"/>
<path d="M586.1,628.1 l9.1,9.1 l9.1,-9.1 l-9.1,-9.1 l9.1,-9.1 l-9.1,-9.1 l-9.1,9.1 l-9.1,-9.1 l-9.1,9.1 l9.1,9.1 l-9.1,9.1 l9.1,9.1 Z" fill="#00FE35"/>
<path d="M932.5,520.5 l9.1,9.1 l9.1,-9.1 l-9.1,-9.1 l9.1,-9.1 l-9.1,-9.1 l-9.1,9.1 l-9.1,-9.1 l-9.1,9.1 l9.1,9.1 l-9.1,9.1 l9.1,9.1 Z" fill="#00FE35"/>
<polygon points="586.1,619 590.4,580.3 599.1,553.2 610.2,545.4 621.3,540.9 632.4,536.4 643.5,530.9 660.2,525.4 676.8,521.6 698.9,517.7 721.4,514.3 754.4,512.1 783.9,510.4 801.2,508.7 845.5,506.5 912.3,505.4 932.2,505.4 932.2,513.8 912.3,514.5 901,516.8 868,519 845.5,522.3 812.5,524.5 783.9,528 765.7,530.1 743.6,533.4 721.4,537.9 698.9,541.6 676.8,544.5 654.6,555.8 638,562.2 632.4,564.4 621.3,572.2 610.2,583.3 599.1,600 586.1,623.6" fill="#6A76FC" fill-opacity="0.25"/>
<polyline class="ln" points="586.1,621.9 591.3,590 599.1,576.6 610.2,564.4 621.3,553.2 632.4,544.5 643.5,539 654.6,534.5 665.7,532.3 676.8,529 688,526.7 710.2,523.5 732.4,520.3 754.7,517.9 783.9,515.8 801.2,513.4 845.5,510.6 878.4,508.5 912.3,507.4 932.2,507.7" stroke="#6A76FC"/>
<path d="M586.1,630.9 l9.1,9.1 l9.1,-9.1 l-9.1,-9.1 l9.1,-9.1 l-9.1,-9.1 l-9.1,9.1 l-9.1,-9.1 l-9.1,9.1 l9.1,9.1 l-9.1,9.1 l9.1,9.1 Z" fill="#6A76FC"/>
<path d="M932.5,517.7 l9.1,9.1 l9.1,-9.1 l-9.1,-9.1 l9.1,-9.1 l-9.1,-9.1 l-9.1,9.1 l-9.1,-9.1 l-9.1,9.1 l9.1,9.1 l-9.1,9.1 l9.1,9.1 Z" fill="#6A76FC"/>
<polygon points="586.1,617.1 590.4,571.9 594.8,546.1 599.1,528 604.7,517.9 610.2,511.2 619.1,504.5 632.4,501.2 643.5,497.9 665.7,494.5 688,491.9 721.4,490.6 783.9,489 932.2,488.5 932.2,491.2 912.3,491.2 868,492.9 845.8,495.7 843.7,498.5 801.2,500.3 783.9,501.2 771.3,503.5 760.2,504.5 715.8,506.7 704.7,510.1 676.8,511.2 665.7,513.4 654.6,516.8 649.1,522.3 638,530.1 632.4,534.5 615.8,543.5 604.7,553.5 599.1,584.8 593,597.7 586.1,623.6" fill="#FE00CE" fill-opacity="0.25"/>
<polyline class="ln" points="586.1,618 590.2,584.4 594.7,562.2 596.9,552.5 600.2,541.2 604.7,531.2 610.2,523.5 615.8,517.9 620.2,516.8 623.4,512.3 630.2,508 643.5,504.5 654.6,501.7 665.7,501.2 676.8,498.5 698.9,495.7 721.4,494.5 743.6,493.4 765.7,492.9 783.9,491.9 790,491.9 823.8,490.6 856.8,490.1 912.3,489 932.2,489.3" stroke="#FE00CE"/>
<path d="M586.1,627.1 l9.1,9.1 l9.1,-9.1 l-9.1,-9.1 l9.1,-9.1 l-9.1,-9.1 l-9.1,9.1 l-9.1,-9.1 l-9.1,9.1 l9.1,9.1 l-9.1,9.1 l9.1,9.1 Z" fill="#FE00CE"/>
<path d="M932.5,498.3 l9.1,9.1 l9.1,-9.1 l-9.1,-9.1 l9.1,-9.1 l-9.1,-9.1 l-9.1,9.1 l-9.1,-9.1 l-9.1,9.1 l9.1,9.1 l-9.1,9.1 l9.1,9.1 Z" fill="#FE00CE"/>
</g>
<text class="tk" transform="translate(586,801.6) scale(0.975,1)" text-anchor="middle">0</text>
<text class="tk" transform="translate(672.9,801.6) scale(0.975,1)" text-anchor="middle">100</text>
<text class="tk" transform="translate(759.8,801.6) scale(0.975,1)" text-anchor="middle">200</text>
<text class="tk" transform="translate(846.6,801.6) scale(0.975,1)" text-anchor="middle">300</text>
<text class="tk" transform="translate(933.5,801.6) scale(0.975,1)" text-anchor="middle">400</text>
<text class="tk" transform="translate(576,495.9) scale(0.995,1)" text-anchor="end">1</text>
<text class="tk" transform="translate(576,560.4) scale(0.995,1)" text-anchor="end">0.9</text>
<text class="tk" transform="translate(576,625) scale(0.995,1)" text-anchor="end">0.8</text>
<text class="tk" transform="translate(576,689.5) scale(0.995,1)" text-anchor="end">0.7</text>
<text class="tk" transform="translate(576,754.1) scale(0.995,1)" text-anchor="end">0.6</text>
<text class="tt" transform="translate(580.5,449.5) scale(1.0,1)">f) unicodelang</text>
<text class="ax" transform="translate(518.7,620.6) rotate(-90) scale(0.957,1)" text-anchor="middle">p<tspan font-size="17.0px" dy="5.2">S</tspan></text>
</g>
<g id="plot-g">
<rect x="1083.9" y="461.5" width="364.7" height="318.2" fill="#E5ECF6"/>
<line class="gl" x1="1179.3" x2="1179.3" y1="461.5" y2="779.7"/>
<line class="gl" x1="1266.2" x2="1266.2" y1="461.5" y2="779.7"/>
<line class="gl" x1="1353.1" x2="1353.1" y1="461.5" y2="779.7"/>
<line class="gl" x1="1440" x2="1440" y1="461.5" y2="779.7"/>
<line class="gl" x1="1083.9" x2="1448.6" y1="488" y2="488"/>
<line class="gl" x1="1083.9" x2="1448.6" y1="552.5" y2="552.5"/>
<line class="gl" x1="1083.9" x2="1448.6" y1="617.1" y2="617.1"/>
<line class="gl" x1="1083.9" x2="1448.6" y1="681.6" y2="681.6"/>
<line class="gl" x1="1083.9" x2="1448.6" y1="746.2" y2="746.2"/>
<line class="zl" x1="1092.5" x2="1092.5" y1="461.5" y2="779.7"/>
<g clip-path="url(#c6)">
<polygon points="1092.5,590.2 1096.1,566.1 1098.8,550.6 1105.5,541.6 1116.6,533.8 1127.7,528.2 1138.8,522.6 1149.9,518.7 1161,516 1183.2,512.6 1205.3,509.9 1227.8,507 1250,505.4 1272.1,503.8 1290.3,502.6 1307.6,501.6 1351.9,499.8 1418.7,497.7 1438.6,496.7 1438.6,503.2 1418.7,504.1 1351.9,506.3 1307.6,508 1290.3,509 1272.1,510.2 1250,511.9 1227.8,513.5 1205.3,516.4 1183.2,519 1161,522.4 1149.9,525.2 1138.8,529.1 1127.7,534.6 1116.6,540.3 1105.5,548 1098.8,557.1 1096.1,572.6 1092.5,596.7" fill="#FD3216" fill-opacity="0.25"/>
<polyline class="ln" points="1092.5,593.5 1096.1,569.3 1098.8,553.8 1105.5,544.8 1116.6,537.1 1127.7,531.4 1138.8,525.8 1149.9,522 1161,519.2 1183.2,515.8 1205.3,513.2 1227.8,510.3 1250,508.7 1272.1,507 1290.3,505.8 1307.6,504.8 1351.9,503 1418.7,500.9 1438.6,499.9" stroke="#FD3216"/>
<path d="M1092.5,601.2 l9.1,9.1 l9.1,-9.1 l-9.1,-9.1 l9.1,-9.1 l-9.1,-9.1 l-9.1,9.1 l-9.1,-9.1 l-9.1,9.1 l9.1,9.1 l-9.1,9.1 l9.1,9.1 Z" fill="#FD3216"/>
<path d="M1438.9,508.7 l9.1,9.1 l9.1,-9.1 l-9.1,-9.1 l9.1,-9.1 l-9.1,-9.1 l-9.1,9.1 l-9.1,-9.1 l-9.1,9.1 l9.1,9.1 l-9.1,9.1 l9.1,9.1 Z" fill="#FD3216"/>
<polygon points="1092.5,588.3 1095.1,564.2 1097.7,548.7 1105.5,537.3 1116.6,529.6 1127.7,524.1 1138.8,520.7 1149.9,518.5 1161,516.4 1183.2,513.4 1205.3,510.7 1227.8,509 1250,507.4 1272.1,506.3 1290.3,505.7 1307.6,504.6 1351.9,502.8 1418.7,500.7 1438.6,501.6 1438.6,509.9 1418.7,509 1351.9,511.2 1307.6,513 1290.3,514.1 1272.1,514.7 1250,515.8 1227.8,517.4 1205.3,519 1183.2,521.8 1161,524.8 1149.9,526.9 1138.8,529.1 1127.7,532.5 1116.6,538 1105.5,545.7 1097.7,557.1 1095.1,572.6 1092.5,596.7" fill="#00FE35" fill-opacity="0.25"/>
<polyline class="ln" points="1092.5,592.2 1095.1,568 1097.7,552.5 1105.5,541.2 1116.6,533.4 1127.7,528 1138.8,524.5 1149.9,522.3 1161,520.3 1183.2,517.3 1205.3,514.5 1227.8,512.9 1250,511.2 1272.1,510.1 1290.3,509.6 1307.6,508.5 1351.9,506.7 1418.7,504.5 1438.6,505.4" stroke="#00FE35"/>
<path d="M1092.5,601.2 l9.1,9.1 l9.1,-9.1 l-9.1,-9.1 l9.1,-9.1 l-9.1,-9.1 l-9.1,9.1 l-9.1,-9.1 l-9.1,9.1 l9.1,9.1 l-9.1,9.1 l9.1,9.1 Z" fill="#00FE35"/>
<path d="M1438.9,514.5 l9.1,9.1 l9.1,-9.1 l-9.1,-9.1 l9.1,-9.1 l-9.1,-9.1 l-9.1,9.1 l-9.1,-9.1 l-9.1,9.1 l9.1,9.1 l-9.1,9.1 l9.1,9.1 Z" fill="#00FE35"/>
<polygon points="1092.5,589 1096.1,564.8 1098.8,549.3 1105.5,540.3 1116.6,532.5 1127.7,526.9 1138.8,521.3 1149.9,517.4 1161,514.7 1183.2,511.3 1205.3,508.7 1227.8,505.8 1250,504.1 1272.1,502.5 1290.3,501.3 1307.6,500.3 1351.9,498.5 1418.7,496.4 1438.6,495.4 1438.6,501.2 1418.7,502.2 1351.9,504.3 1307.6,506.1 1290.3,507.1 1272.1,508.3 1250,509.9 1227.8,511.6 1205.3,514.5 1183.2,517.1 1161,520.5 1149.9,523.2 1138.8,527.1 1127.7,532.7 1116.6,538.3 1105.5,546.1 1098.8,555.1 1096.1,570.6 1092.5,594.8" fill="#6A76FC" fill-opacity="0.25"/>
<polyline class="ln" points="1092.5,592.2 1096.1,568 1098.8,552.5 1105.5,543.5 1116.6,535.8 1127.7,530.1 1138.8,524.5 1149.9,520.7 1161,517.9 1183.2,514.5 1205.3,511.9 1227.8,509 1250,507.4 1272.1,505.7 1290.3,504.5 1307.6,503.5 1351.9,501.7 1418.7,499.6 1438.6,498.7" stroke="#6A76FC"/>
<path d="M1092.5,601.2 l9.1,9.1 l9.1,-9.1 l-9.1,-9.1 l9.1,-9.1 l-9.1,-9.1 l-9.1,9.1 l-9.1,-9.1 l-9.1,9.1 l9.1,9.1 l-9.1,9.1 l9.1,9.1 Z" fill="#6A76FC"/>
<path d="M1438.9,507.7 l9.1,9.1 l9.1,-9.1 l-9.1,-9.1 l9.1,-9.1 l-9.1,-9.1 l-9.1,9.1 l-9.1,-9.1 l-9.1,9.1 l9.1,9.1 l-9.1,9.1 l9.1,9.1 Z" fill="#6A76FC"/>
<polygon points="1092.5,589.6 1093.4,565.5 1094.9,550 1097.7,534.2 1101.1,523.1 1105.5,511.9 1111.1,504.1 1118.9,498.7 1127.7,495.3 1138.8,492.5 1161,489.7 1183.2,488 1216.6,488 1261.1,488 1438.6,488 1438.6,490.8 1261.1,491 1216.6,491.9 1183.2,493.2 1161,494.9 1138.8,497.7 1127.7,500.5 1118.9,503.8 1111.1,509.3 1105.5,517.1 1101.1,528.2 1097.7,539.4 1094.9,555.1 1093.4,570.6 1092.5,594.8" fill="#FE00CE" fill-opacity="0.25"/>
<polyline class="ln" points="1092.5,592.2 1093.4,568 1094.9,552.5 1097.7,536.8 1101.1,525.6 1105.5,514.5 1111.1,506.7 1118.9,501.2 1127.7,497.9 1138.8,495.1 1161,492.3 1183.2,490.6 1216.6,489.3 1261.1,488.5 1438.6,488.2" stroke="#FE00CE"/>
<path d="M1092.5,601.2 l9.1,9.1 l9.1,-9.1 l-9.1,-9.1 l9.1,-9.1 l-9.1,-9.1 l-9.1,9.1 l-9.1,-9.1 l-9.1,9.1 l9.1,9.1 l-9.1,9.1 l9.1,9.1 Z" fill="#FE00CE"/>
<path d="M1438.9,497.2 l9.1,9.1 l9.1,-9.1 l-9.1,-9.1 l9.1,-9.1 l-9.1,-9.1 l-9.1,9.1 l-9.1,-9.1 l-9.1,9.1 l9.1,9.1 l-9.1,9.1 l9.1,9.1 Z" fill="#FE00CE"/>
</g>
<text class="tk" transform="translate(1092.5,801.6) scale(0.975,1)" text-anchor="middle">0</text>
<text class="tk" transform="translate(1179.3,801.6) scale(0.975,1)" text-anchor="middle">100</text>
<text class="tk" transform="translate(1266.2,801.6) scale(0.975,1)" text-anchor="middle">200</text>
<text class="tk" transform="translate(1353.1,801.6) scale(0.975,1)" text-anchor="middle">300</text>
<text class="tk" transform="translate(1440,801.6) scale(0.975,1)" text-anchor="middle">400</text>
<text class="tk" transform="translate(1082.9,495.9) scale(0.995,1)" text-anchor="end">1</text>
<text class="tk" transform="translate(1082.9,560.4) scale(0.995,1)" text-anchor="end">0.9</text>
<text class="tk" transform="translate(1082.9,625) scale(0.995,1)" text-anchor="end">0.8</text>
<text class="tk" transform="translate(1082.9,689.5) scale(0.995,1)" text-anchor="end">0.7</text>
<text class="tk" transform="translate(1082.9,754.1) scale(0.995,1)" text-anchor="end">0.6</text>
<text class="tt" transform="translate(1087.4,449.5) scale(1.0,1)">g) a_song_of_ice_and_fire</text>
<text class="ax" transform="translate(1025.6,620.6) rotate(-90) scale(0.957,1)" text-anchor="middle">p<tspan font-size="17.0px" dy="5.2">S</tspan></text>
</g>
<g id="plot-h">
<rect x="1589.6" y="461.5" width="364.8" height="318.2" fill="#E5ECF6"/>
<line class="gl" x1="1685.2" x2="1685.2" y1="461.5" y2="779.7"/>
<line class="gl" x1="1772.1" x2="1772.1" y1="461.5" y2="779.7"/>
<line class="gl" x1="1859" x2="1859" y1="461.5" y2="779.7"/>
<line class="gl" x1="1945.9" x2="1945.9" y1="461.5" y2="779.7"/>
<line class="gl" x1="1589.6" x2="1954.4" y1="488" y2="488"/>
<line class="gl" x1="1589.6" x2="1954.4" y1="552.5" y2="552.5"/>
<line class="gl" x1="1589.6" x2="1954.4" y1="617.1" y2="617.1"/>
<line class="gl" x1="1589.6" x2="1954.4" y1="681.6" y2="681.6"/>
<line class="gl" x1="1589.6" x2="1954.4" y1="746.2" y2="746.2"/>
<line class="zl" x1="1598.2" x2="1598.2" y1="461.5" y2="779.7"/>
<g clip-path="url(#c7)">
<polygon points="1599,571.9 1603.3,539.6 1620.7,520.3 1651,510.6 1685.8,504.1 1772.5,497.7 1945.1,491.2 1945.1,536.4 1912.2,537.7 1859.2,540.3 1811.5,544.4 1796.8,546.1 1778.6,547.8 1767.6,550 1750.8,553.2 1734.3,559 1711.8,563.9 1689.7,567.8 1684.2,571.3 1673.1,579 1662,584.4 1650.9,592.2 1645.3,599 1639.8,605.5 1634.2,612.2 1628.7,617.7 1623.1,624.5 1612,634.5 1606.5,642.3 1601.6,652.6 1599,660" fill="#FD3216" fill-opacity="0.25"/>
<polyline class="ln" points="1599,602.4 1603.3,578.4 1610.9,561.2 1623.1,555.8 1634.2,549 1645.3,543.5 1656.4,539 1667.5,532.3 1678.6,529 1689.7,525.6 1711.8,521.2 1734.3,517.9 1756.5,515.1 1778.6,512.3 1785.5,511.9 1791.6,508.3 1811.5,506.3 1859.2,505.4 1945.1,502.8" stroke="#FD3216"/>
<path d="M1599,611.5 l9.1,9.1 l9.1,-9.1 l-9.1,-9.1 l9.1,-9.1 l-9.1,-9.1 l-9.1,9.1 l-9.1,-9.1 l-9.1,9.1 l9.1,9.1 l-9.1,9.1 l9.1,9.1 Z" fill="#FD3216"/>
<path d="M1945.4,512.5 l9.1,9.1 l9.1,-9.1 l-9.1,-9.1 l9.1,-9.1 l-9.1,-9.1 l-9.1,9.1 l-9.1,-9.1 l-9.1,9.1 l9.1,9.1 l-9.1,9.1 l9.1,9.1 Z" fill="#FD3216"/>
<polygon points="1599,571.9 1601.6,533.2 1607.7,520.3 1620.7,510.6 1651,504.1 1685.8,500.9 1772.5,495.7 1945.1,492.5 1945.1,513.2 1933,513.2 1912.2,514.5 1859.2,517 1796.8,522.2 1750.8,526.7 1723.1,529.3 1711.8,532.5 1689.7,536.4 1667.5,540 1656.4,543.5 1645.3,546.7 1634.2,551.3 1623.1,556.7 1612,562.2 1603.3,578.4 1599,597.7" fill="#00FE35" fill-opacity="0.25"/>
<polyline class="ln" points="1599,582.9 1600.9,552.5 1606.5,539 1612,531.2 1617.6,525.6 1623.1,522.3 1634.2,518.3 1645.3,515.8 1667.5,512.3 1689.7,510.6 1723.1,509.6 1745.3,506.7 1778.6,505.1 1796.8,504.1 1859.2,501.2 1945.1,498.3" stroke="#00FE35"/>
<path d="M1599,591.9 l9.1,9.1 l9.1,-9.1 l-9.1,-9.1 l9.1,-9.1 l-9.1,-9.1 l-9.1,9.1 l-9.1,-9.1 l-9.1,9.1 l9.1,9.1 l-9.1,9.1 l9.1,9.1 Z" fill="#00FE35"/>
<path d="M1945.4,507.4 l9.1,9.1 l9.1,-9.1 l-9.1,-9.1 l9.1,-9.1 l-9.1,-9.1 l-9.1,9.1 l-9.1,-9.1 l-9.1,9.1 l9.1,9.1 l-9.1,9.1 l9.1,9.1 Z" fill="#00FE35"/>
<polygon points="1599,565.5 1599.9,525.6 1600.9,514.5 1606.5,512.3 1612,509.9 1633.7,504.1 1685.8,497.7 1772.5,494.5 1945.1,491.2 1945.1,512.5 1859.2,520.3 1796.8,526.7 1745.3,532.5 1711.8,537.7 1700.9,540.9 1689.7,544.4 1678.6,547.8 1667.5,551.3 1656.4,554.5 1650.9,559 1645.3,562.2 1639.8,565.5 1634.2,571.3 1628.7,576.6 1623.1,584.4 1617.6,592.2 1612,600 1607.6,606.8 1604.2,617.7 1600.9,628.8 1599,640" fill="#6A76FC" fill-opacity="0.25"/>
<polyline class="ln" points="1599,581.9 1603.1,556.7 1607.6,548 1612,544.5 1623.1,536.8 1634.2,533.4 1645.3,530.1 1656.4,526.7 1667.5,524.5 1689.7,521.2 1711.8,516.8 1734.3,514.5 1756.5,513.4 1778.6,511.2 1796.8,509 1811.5,506.3 1859.2,503.9 1912.2,500.3 1945.1,499.2" stroke="#6A76FC"/>
<path d="M1599,590.9 l9.1,9.1 l9.1,-9.1 l-9.1,-9.1 l9.1,-9.1 l-9.1,-9.1 l-9.1,9.1 l-9.1,-9.1 l-9.1,9.1 l9.1,9.1 l-9.1,9.1 l9.1,9.1 Z" fill="#6A76FC"/>
<path d="M1945.4,509.3 l9.1,9.1 l9.1,-9.1 l-9.1,-9.1 l9.1,-9.1 l-9.1,-9.1 l-9.1,9.1 l-9.1,-9.1 l-9.1,9.1 l9.1,9.1 l-9.1,9.1 l9.1,9.1 Z" fill="#6A76FC"/>
<polygon points="1599,565.5 1601.6,533.2 1606.5,514.5 1612,508 1617.6,502.3 1623.1,499 1634.2,495.7 1656.4,494.5 1676.5,492.3 1680.9,490.1 1711.8,489.3 1796.8,488.5 1945.1,488 1945.1,510.6 1912.2,514.5 1859.2,519.3 1796.8,524.5 1778.6,526.7 1745.3,530.1 1723.1,532.3 1711.8,535.1 1700.9,539 1689.7,541.9 1678.6,544.4 1667.5,546.7 1656.4,550 1645.3,554.5 1634.2,560 1623.1,567.8 1617.6,573.3 1612,581.6 1607.7,591.3 1604.2,604.2 1600.7,617.1 1599,630" fill="#FE00CE" fill-opacity="0.25"/>
<polyline class="ln" points="1599,574.1 1600.3,559 1604.2,543.5 1608.5,532.3 1614.2,523.5 1620.9,514.5 1628.7,508.5 1634.2,506.2 1645.3,504.1 1656.4,501.2 1673.1,499.6 1689.7,497.9 1717.6,497.4 1719.8,495.1 1745.3,494 1778.6,492.9 1796.8,492.3 1859.2,491.2 1912.2,490.2 1937.3,489.9 1945.1,488.2" stroke="#FE00CE"/>
<path d="M1599,583.2 l9.1,9.1 l9.1,-9.1 l-9.1,-9.1 l9.1,-9.1 l-9.1,-9.1 l-9.1,9.1 l-9.1,-9.1 l-9.1,9.1 l9.1,9.1 l-9.1,9.1 l9.1,9.1 Z" fill="#FE00CE"/>
<path d="M1945.4,498.3 l9.1,9.1 l9.1,-9.1 l-9.1,-9.1 l9.1,-9.1 l-9.1,-9.1 l-9.1,9.1 l-9.1,-9.1 l-9.1,9.1 l9.1,9.1 l-9.1,9.1 l9.1,9.1 Z" fill="#FE00CE"/>
</g>
<text class="tk" transform="translate(1598.2,801.6) scale(0.975,1)" text-anchor="middle">0</text>
<text class="tk" transform="translate(1685.2,801.6) scale(0.975,1)" text-anchor="middle">100</text>
<text class="tk" transform="translate(1772.1,801.6) scale(0.975,1)" text-anchor="middle">200</text>
<text class="tk" transform="translate(1859,801.6) scale(0.975,1)" text-anchor="middle">300</text>
<text class="tk" transform="translate(1945.9,801.6) scale(0.975,1)" text-anchor="middle">400</text>
<text class="tk" transform="translate(1588.6,495.9) scale(0.995,1)" text-anchor="end">1</text>
<text class="tk" transform="translate(1588.6,560.4) scale(0.995,1)" text-anchor="end">0.9</text>
<text class="tk" transform="translate(1588.6,625) scale(0.995,1)" text-anchor="end">0.8</text>
<text class="tk" transform="translate(1588.6,689.5) scale(0.995,1)" text-anchor="end">0.7</text>
<text class="tk" transform="translate(1588.6,754.1) scale(0.995,1)" text-anchor="end">0.6</text>
<text class="tt" transform="translate(1593.1,449.5) scale(1.0,1)">h) pso_1024</text>
<text class="ax" transform="translate(1531.3,620.6) rotate(-90) scale(0.957,1)" text-anchor="middle">p<tspan font-size="17.0px" dy="5.2">S</tspan></text>
</g>
<g id="legend">
<line x1="80" x2="130" y1="889" y2="889" stroke="#FD3216" stroke-width="8"/>
<text class="lg" transform="translate(138.3,903.1) scale(0.984,1)">RandomSampling</text>
<line x1="480" x2="530" y1="889" y2="889" stroke="#00FE35" stroke-width="8"/>
<text class="lg" transform="translate(538,903.1) scale(0.984,1)">DegreeDependentSampling</text>
<line x1="1066.3" x2="1116.3" y1="889" y2="889" stroke="#6A76FC" stroke-width="8"/>
<text class="lg" transform="translate(1124,903.1) scale(0.984,1)">SourceDependentSampling</text>
<line x1="80" x2="130" y1="958.2" y2="958.2" stroke="#FE00CE" stroke-width="8"/>
<text class="lg" transform="translate(138.3,972.3) scale(0.984,1)">TargetDependentSampling</text>
</g>
</svg>
</body>
</html>
